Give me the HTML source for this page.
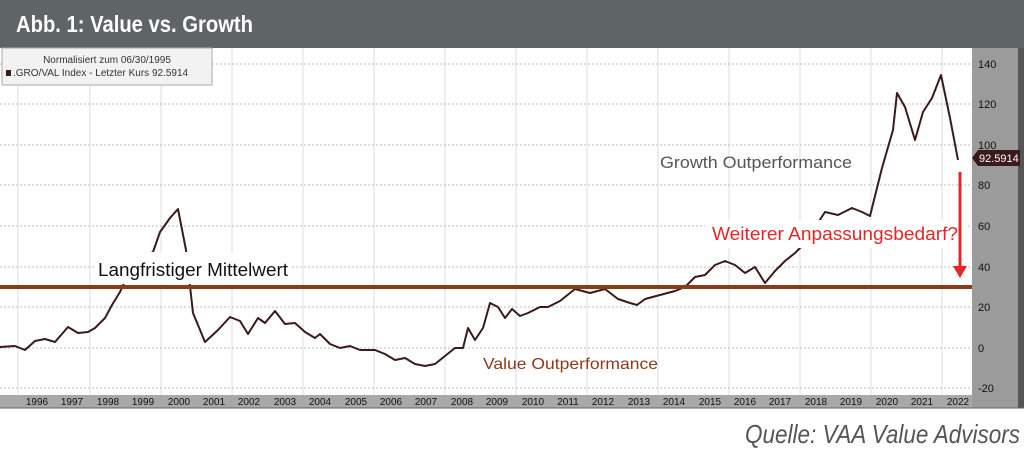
<!DOCTYPE html>
<html><head><meta charset="utf-8"><style>
body{margin:0;width:1024px;height:451px;background:#fff;overflow:hidden;font-family:"Liberation Sans",sans-serif}
</style></head><body>
<svg width="1024" height="451" xmlns="http://www.w3.org/2000/svg" font-family="Liberation Sans, sans-serif">
<rect x="0" y="0" width="1024" height="48" fill="#5f6566"/>
<text x="16" y="32" font-size="23" font-weight="bold" fill="#fff" textLength="237" lengthAdjust="spacingAndGlyphs">Abb. 1: Value vs. Growth</text>
<rect x="0" y="48" width="972" height="347" fill="#fff"/>
<g stroke="#ddd" stroke-width="1">
<line x1="18" y1="48" x2="18" y2="395"/><line x1="90" y1="48" x2="90" y2="395"/><line x1="161" y1="48" x2="161" y2="395"/><line x1="232" y1="48" x2="232" y2="395"/><line x1="303" y1="48" x2="303" y2="395"/><line x1="374" y1="48" x2="374" y2="395"/><line x1="445" y1="48" x2="445" y2="395"/><line x1="516" y1="48" x2="516" y2="395"/><line x1="587" y1="48" x2="587" y2="395"/><line x1="658" y1="48" x2="658" y2="395"/><line x1="729" y1="48" x2="729" y2="395"/><line x1="800" y1="48" x2="800" y2="395"/><line x1="871" y1="48" x2="871" y2="395"/><line x1="942" y1="48" x2="942" y2="395"/>
</g>
<g stroke="#bbb" stroke-width="1" stroke-dasharray="2,2">
<line x1="0" y1="64" x2="972" y2="64"/><line x1="0" y1="104" x2="972" y2="104"/><line x1="0" y1="145" x2="972" y2="145"/><line x1="0" y1="185" x2="972" y2="185"/><line x1="0" y1="226" x2="972" y2="226"/><line x1="0" y1="267" x2="972" y2="267"/><line x1="0" y1="307" x2="972" y2="307"/><line x1="0" y1="348" x2="972" y2="348"/><line x1="0" y1="388" x2="972" y2="388"/>
</g>
<polyline fill="none" stroke="#3a1a1a" stroke-width="2" stroke-linejoin="round" points="0,347 15,346 25,350 35,341 45,339 55,342 68,327 78,333 88,332 95,328 105,318 112,305 120,292 130,270 140,258 153,252 160,232 170,218 178,209 186,250 193,313 205,342 218,330 230,317 240,321 248,334 258,318 265,323 275,311 285,324 295,323 305,332 315,338 320,334 330,344 340,348 350,346 360,350 375,350 385,354 395,360 405,358 415,364 425,366 435,364 445,356 455,348 463,348 468,328 475,340 483,328 490,303 498,307 505,318 512,309 520,316 528,313 540,307 548,307 560,301 575,289 590,293 605,289 618,299 630,303 637,305 645,299 660,295 675,291 685,287 695,277 705,275 715,265 725,261 735,265 745,273 755,267 765,283 775,271 785,261 795,253 800,248 812,232 825,212 838,215 852,208 862,212 870,216 882,168 893,130 897,93 905,107 915,140 923,112 932,98 941,75 950,118 958,160"/>
<line x1="0" y1="287" x2="972" y2="287" stroke="#8b3a1a" stroke-width="4"/>
<rect x="95" y="252" width="195" height="32" fill="#fff"/>
<rect x="705" y="220" width="262" height="28" fill="#fff"/>
<text x="98" y="276" font-size="18" fill="#111" textLength="190" lengthAdjust="spacingAndGlyphs">Langfristiger Mittelwert</text>
<text x="660" y="168" font-size="17" fill="#555" textLength="192" lengthAdjust="spacingAndGlyphs">Growth Outperformance</text>
<text x="483" y="369" font-size="16" fill="#8b3a1a" textLength="175" lengthAdjust="spacingAndGlyphs">Value Outperformance</text>
<text x="712" y="240" font-size="18" fill="#e3262a" textLength="246" lengthAdjust="spacingAndGlyphs">Weiterer Anpassungsbedarf?</text>
<line x1="960" y1="172" x2="960" y2="268" stroke="#e3262a" stroke-width="3"/>
<polygon points="953,266 967,266 960,278" fill="#e3262a"/>
<rect x="2" y="48" width="210" height="37" fill="#f2f2f2" stroke="#aaa"/>
<text x="107" y="63" font-size="10" fill="#333" text-anchor="middle">Normalisiert zum 06/30/1995</text>
<rect x="6" y="70" width="5" height="6" fill="#3a1a1a"/>
<text x="13" y="76" font-size="10" fill="#333">.GRO/VAL Index - Letzter Kurs 92.5914</text>
<rect x="972" y="48" width="46" height="360" fill="#9b9b9b"/>
<rect x="1018" y="48" width="6" height="360" fill="#555"/>
<rect x="0" y="395" width="972" height="13" fill="#a8a8a8"/>
<line x1="0" y1="408" x2="1024" y2="408" stroke="#666"/>
<g font-size="11" fill="#111">
<text x="978" y="68">140</text><text x="978" y="108">120</text><text x="978" y="149">100</text><text x="978" y="189">80</text><text x="978" y="230">60</text><text x="978" y="271">40</text><text x="978" y="311">20</text><text x="978" y="352">0</text><text x="978" y="392">-20</text>
</g>
<polygon points="972,158 978,150 1020,150 1020,166 978,166" fill="#3a1a1a"/>
<text x="979" y="162" font-size="11" fill="#fff">92.5914</text>
<g font-size="10" fill="#111" text-anchor="middle">
<text x="37" y="405">1996</text><text x="72" y="405">1997</text><text x="108" y="405">1998</text><text x="143" y="405">1999</text><text x="179" y="405">2000</text><text x="214" y="405">2001</text><text x="249" y="405">2002</text><text x="285" y="405">2003</text><text x="320" y="405">2004</text><text x="356" y="405">2005</text><text x="391" y="405">2006</text><text x="426" y="405">2007</text><text x="462" y="405">2008</text><text x="497" y="405">2009</text><text x="533" y="405">2010</text><text x="568" y="405">2011</text><text x="603" y="405">2012</text><text x="639" y="405">2013</text><text x="674" y="405">2014</text><text x="710" y="405">2015</text><text x="745" y="405">2016</text><text x="780" y="405">2017</text><text x="816" y="405">2018</text><text x="851" y="405">2019</text><text x="887" y="405">2020</text><text x="922" y="405">2021</text><text x="958" y="405">2022</text>
</g>
<text x="1020" y="443" font-size="26" font-style="italic" fill="#555" text-anchor="end" textLength="275" lengthAdjust="spacingAndGlyphs">Quelle: VAA Value Advisors</text>
</svg>
</body></html>
